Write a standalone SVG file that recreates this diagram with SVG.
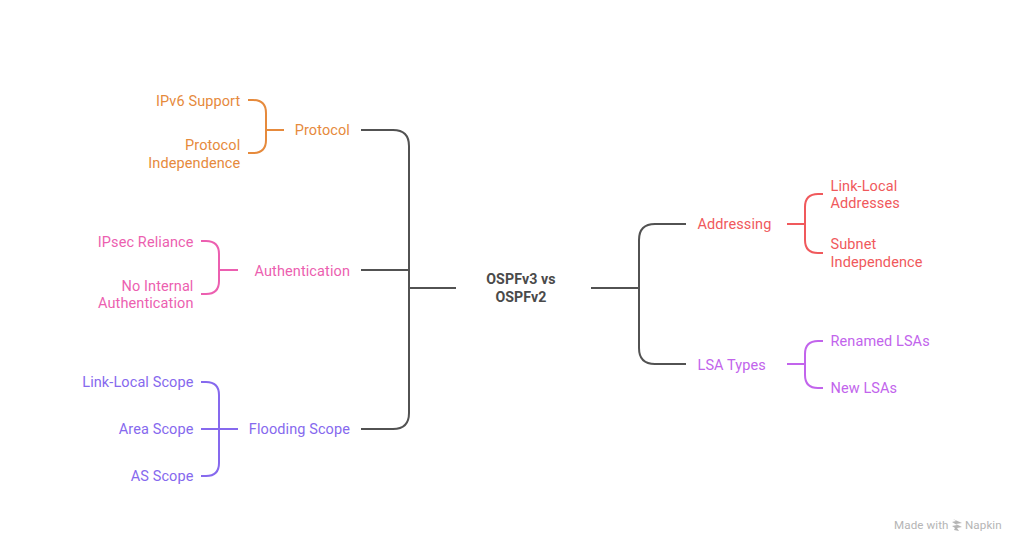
<svg xmlns="http://www.w3.org/2000/svg" width="1024" height="552" viewBox="0 0 1024 552">
<style>
text{font-family:Roboto,"Liberation Sans",sans-serif;font-size:14.5px;letter-spacing:.1px}
.e{text-anchor:end}
.c{fill:none;stroke-width:2;stroke-linecap:butt}
.orange{fill:#e68a3c}.pink{fill:#ec5fb0}.violet{fill:#8669ee}.red{fill:#f0595c}.purple{fill:#c264ec}
</style>
<rect width="1024" height="552" fill="#fff"/>
<g id="connectors">
<path class="c" stroke="#525252" d="M361 130H393Q409 130 409 146V413Q409 429 393 429H361M361 270H409M409 288H456"/>
<path class="c" stroke="#525252" d="M591 288H639M686 224H655Q639 224 639 240V348Q639 364 655 364H686"/>
<path class="c" stroke="#e68a3c" d="M248 100H253Q266 100 266 113V140Q266 153 253 153H248M266 130H284"/>
<path class="c" stroke="#ec5fb0" d="M201 241H206Q219 241 219 254V281Q219 294 206 294H201M219 270H238"/>
<path class="c" stroke="#8669ee" d="M201 382H206Q219 382 219 395V463Q219 476 206 476H201M201 429H238"/>
<path class="c" stroke="#f0595c" d="M823 194H818Q805 194 805 207V240Q805 253 818 253H823M787 224H805"/>
<path class="c" stroke="#c264ec" d="M823 341H818Q805 341 805 354V375Q805 388 818 388H823M787 364H805"/>
</g>
<g id="root"><text x="521" y="284" text-anchor="middle" font-weight="700" fill="#4a4a4a" style="font-size:14.2px">OSPFv3 vs</text><text x="521" y="302" text-anchor="middle" font-weight="700" fill="#4a4a4a" style="font-size:14.2px">OSPFv2</text></g>
<g id="protocol"><text class="e orange" x="350" y="135">Protocol</text></g>
<g id="ipv6"><text class="e orange" x="240.3" y="106">IPv6 Support</text></g>
<g id="protocol-independence"><text class="e orange" x="240.3" y="150">Protocol</text><text class="e orange" x="240.3" y="168">Independence</text></g>
<g id="authentication"><text class="e pink" x="350" y="276">Authentication</text></g>
<g id="ipsec"><text class="e pink" x="193.5" y="247">IPsec Reliance</text></g>
<g id="no-internal"><text class="e pink" x="193.5" y="291">No Internal</text><text class="e pink" x="193.5" y="308">Authentication</text></g>
<g id="flooding"><text class="e violet" x="350" y="434">Flooding Scope</text></g>
<g id="link-local-scope"><text class="e violet" x="193.5" y="387">Link-Local Scope</text></g>
<g id="area-scope"><text class="e violet" x="193.5" y="434">Area Scope</text></g>
<g id="as-scope"><text class="e violet" x="193.5" y="481">AS Scope</text></g>
<g id="addressing"><text class="red" x="697.5" y="229">Addressing</text></g>
<g id="link-local-addresses"><text class="red" x="830.5" y="191">Link-Local</text><text class="red" x="830.5" y="208">Addresses</text></g>
<g id="subnet"><text class="red" x="830.5" y="249">Subnet</text><text class="red" x="830.5" y="267">Independence</text></g>
<g id="lsa-types"><text class="purple" x="697.5" y="370">LSA Types</text></g>
<g id="renamed"><text class="purple" x="830.5" y="346">Renamed LSAs</text></g>
<g id="new-lsas"><text class="purple" x="830.5" y="393">New LSAs</text></g>
<g id="watermark"><text x="894" y="529" fill="#b5b5b5" style="font-size:11.6px">Made with</text><path d="M953 519l9 4-6 1 6 3-5 1 2 3-5-1 1-2-3-2 5-1-5-3 4-1z" fill="#b5b5b5"/><text x="965" y="529" fill="#b5b5b5" style="font-size:11.6px">Napkin</text></g>
</svg>
